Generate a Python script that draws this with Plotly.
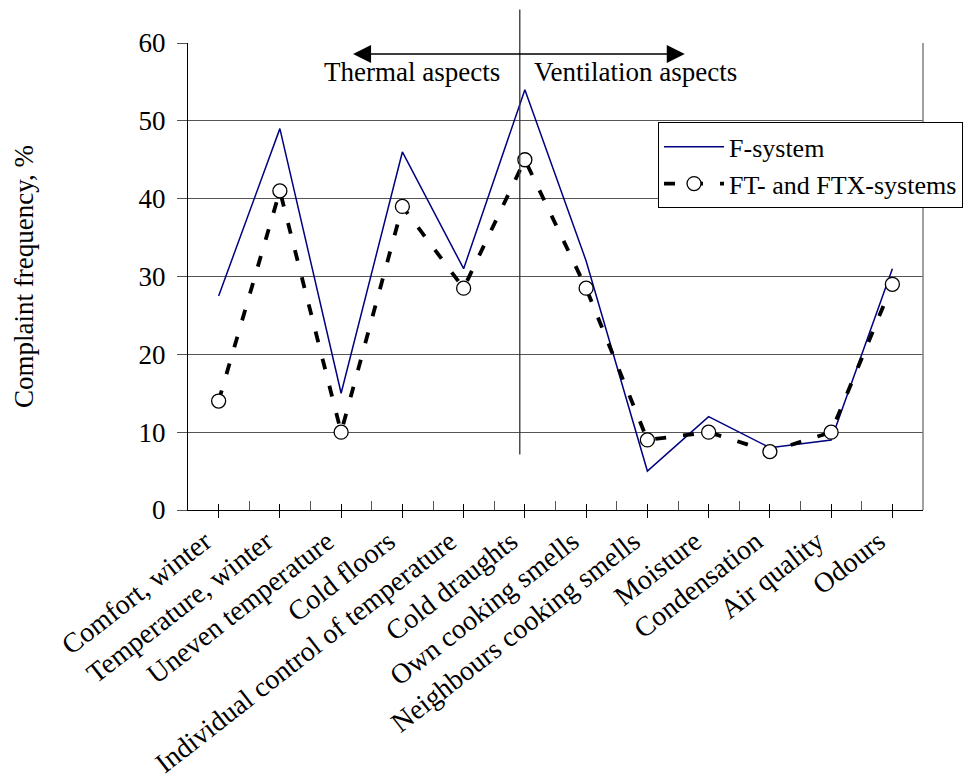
import plotly.graph_objects as go

categories = ["Comfort, winter", "Temperature, winter", "Uneven temperature", "Cold floors",
              "Individual control of temperature", "Cold draughts", "Own cooking smells",
              "Neighbours cooking smells", "Moisture", "Condensation", "Air quality", "Odours"]
f_system = [27.5, 49, 15, 46, 31, 54, 32, 5, 12, 8, 9, 31]
ft_ftx_systems = [14, 41, 10, 39, 28.5, 45, 28.5, 9, 10, 7.5, 10, 29]
y_ticks = [0, 10, 20, 30, 40, 50, 60]

FONT = "Liberation Serif, Times New Roman, serif"
FS = 27
xs = list(range(len(categories)))
half = [i + 0.5 for i in xs[:-1]]

fig = go.Figure()
fig.add_trace(go.Scatter(
    x=xs, y=f_system, name="F-system", mode="lines",
    line=dict(color="#000080", width=1.5), legendgroup="a", hoverinfo="skip"))
fig.add_trace(go.Scatter(
    x=xs, y=ft_ftx_systems, name="FT- and FTX-systems", mode="lines+markers",
    line=dict(color="black", width=3.8, dash="11px,17px"),
    marker=dict(symbol="circle", size=14, color="white", line=dict(color="black", width=1.3)),
    legendgroup="b", hoverinfo="skip"))
fig.add_trace(go.Scatter(x=[], y=[], xaxis="x2", yaxis="y", showlegend=False, hoverinfo="skip"))

fig.update_layout(
    width=963, height=770,
    margin=dict(l=180, r=48, t=35, b=268, autoexpand=False),
    paper_bgcolor="white", plot_bgcolor="white",
    font=dict(family=FONT, size=FS, color="black"),
    showlegend=True,
    legend=dict(x=0.6395, y=0.83, xanchor="left", yanchor="top",
                bgcolor="white", bordercolor="black", borderwidth=1,
                font=dict(family=FONT, size=26, color="black"),
                traceorder="grouped", tracegroupgap=0, itemwidth=60),
    xaxis=dict(type="linear", range=[-0.5, 11.5], tickmode="array", tickvals=xs,
               ticktext=categories, tickangle=-38, ticks="outside", ticklen=7,
               tickcolor="black", tickwidth=1.2, showline=True, linecolor="black",
               linewidth=1.3, showgrid=False, zeroline=False, automargin=False,
               ticklabelshift=-14, ticklabelstandoff=-4,
               tickfont=dict(family=FONT, size=28, color="black"),
               minor=dict(tickmode="array", tickvals=half, ticks="inside", ticklen=9,
                          tickcolor="#555555", tickwidth=1.2, showgrid=False)),
    xaxis2=dict(overlaying="x", anchor="y", matches="x", range=[-0.5, 11.5],
                tickmode="array", tickvals=xs, ticks="inside", ticklen=6,
                tickcolor="black", tickwidth=1.2, showticklabels=False,
                showline=False, showgrid=False, zeroline=False),
    yaxis=dict(range=[0, 60], tickmode="array", tickvals=y_ticks, ticks="outside",
               ticklen=10, tickcolor="#555555", tickwidth=1.2,
               showline=True, linecolor="black", linewidth=1.3,
               showgrid=True, gridcolor="#555555", gridwidth=1.2, zeroline=False,
               ticklabelstandoff=6, automargin=False,
               tickfont=dict(family=FONT, size=FS, color="black"),
               title=dict(text="Complaint frequency, %", standoff=97,
                          font=dict(family=FONT, size=FS, color="black"))),
    shapes=[
        dict(type="line", xref="paper", yref="paper", x0=1, x1=1, y0=0, y1=1,
             line=dict(color="#808080", width=1.5)),
        dict(type="line", xref="x", yref="paper", x0=4.917, x1=4.917, y0=0.119, y1=1.072,
             line=dict(color="#333333", width=1.3)),
    ],
    annotations=[
        dict(x=7.61, y=58.6, xref="x", yref="y", ax=2.17, ay=58.6, axref="x", ayref="y",
             text="", showarrow=True, arrowhead=2, arrowside="end+start",
             arrowsize=2.4, arrowwidth=1.5, arrowcolor="black"),
        dict(x=4.62, y=56.3, xref="x", yref="y", text="Thermal aspects", showarrow=False,
             xanchor="right", yanchor="middle", font=dict(family=FONT, size=FS, color="black")),
        dict(x=5.12, y=56.3, xref="x", yref="y", text="Ventilation aspects", showarrow=False,
             xanchor="left", yanchor="middle", font=dict(family=FONT, size=FS, color="black")),
    ],
)

fig.write_html("out.html")
